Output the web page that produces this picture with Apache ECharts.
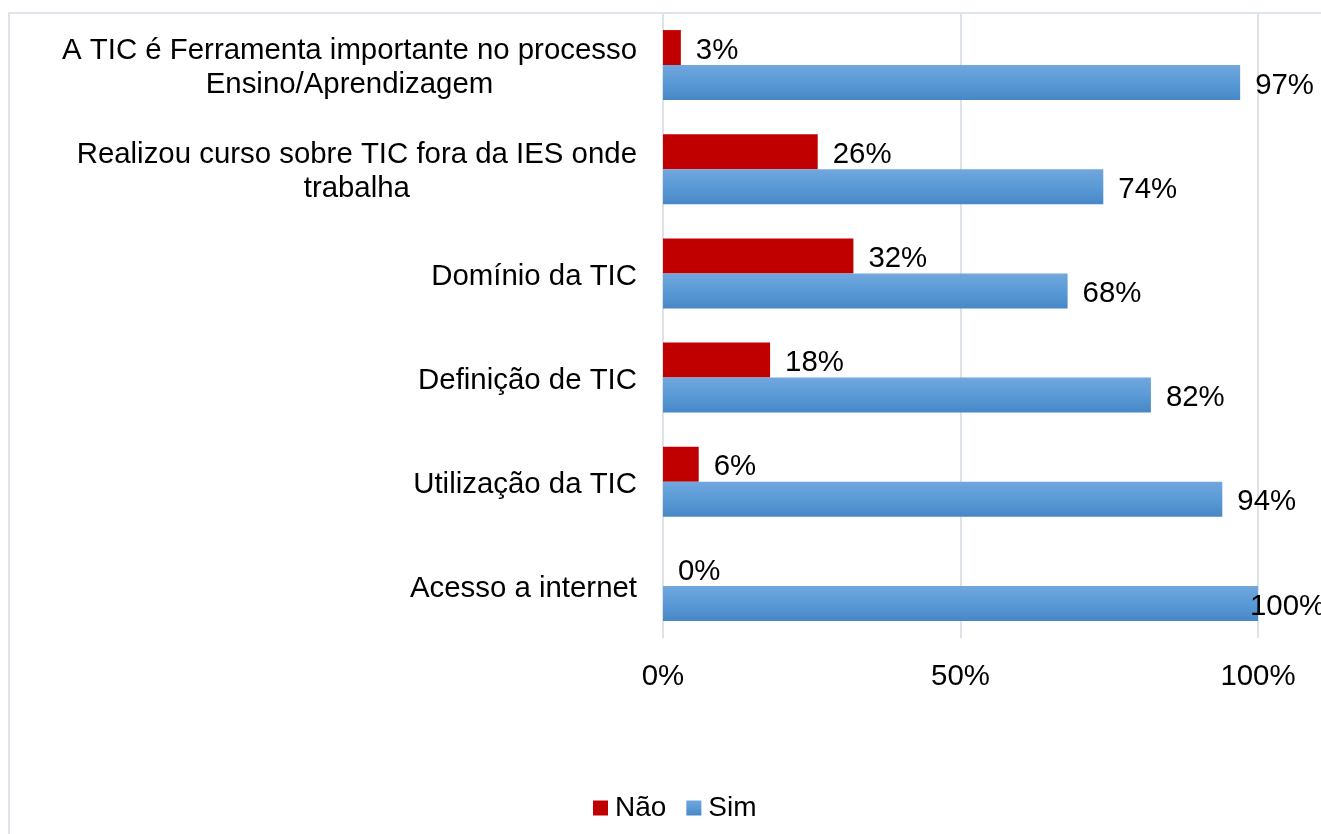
<!DOCTYPE html>
<html>
<head>
<meta charset="utf-8">
<script src="https://cdn.jsdelivr.net/npm/echarts@6/dist/echarts.min.js"></script>
<style>
  html, body { margin: 0; padding: 0; background: #fff; overflow: hidden; }
  #frame { position: absolute; left: 8px; top: 12px; width: 1400px; height: 900px; border: 2px solid #dfe3ea; box-sizing: border-box; }
  #main { position: absolute; left: 0; top: 0; width: 1321px; height: 834px; }
</style>
</head>
<body>
<div id="frame"></div>
<div id="main"></div>
<script>
// categorias, de cima para baixo
const categories = [
  'A TIC é Ferramenta importante no processo\nEnsino/Aprendizagem',
  'Realizou curso sobre TIC fora da IES onde\ntrabalha',
  'Domínio da TIC',
  'Definição de TIC',
  'Utilização da TIC',
  'Acesso a internet'
]
const naoValues = [3, 26, 32, 18, 6, 0]
const simValues = [97, 74, 68, 82, 94, 100]
const xTicks = [0, 50, 100]

const font = 'Liberation Sans, Arial, sans-serif'
const fs = 29.4
const myChart = echarts.init(document.getElementById('main'))

// rotulo do 100% fica por cima do fim da barra
const simData = simValues.map(v => v >= 100 ? { value: v, label: { distance: -8 } } : v)

const dataLabel = {
  show: true, position: 'right', distance: 15, formatter: '{c}%',
  fontSize: fs, color: '#000', fontFamily: font, offset: [0, 3]
}

const option = {
  animation: false,
  textStyle: { fontFamily: font },
  grid: { left: 663, right: 63, top: 13, bottom: 196 },
  legend: {
    data: ['Não', 'Sim'],
    left: 588,
    top: 789,
    icon: 'rect',
    itemWidth: 15,
    itemHeight: 15,
    itemGap: 20,
    textStyle: { fontSize: 28, color: '#000', fontFamily: font, padding: [0, 0, 0, 2] }
  },
  xAxis: {
    type: 'value',
    min: xTicks[0],
    max: xTicks[xTicks.length - 1],
    interval: 50,
    axisLine: { show: false },
    axisTick: { show: false },
    splitLine: { lineStyle: { color: '#dde1e8', width: 2 } },
    axisLabel: { formatter: '{value}%', fontSize: fs, color: '#000', margin: 24, fontFamily: font }
  },
  yAxis: {
    type: 'category',
    inverse: true,
    data: categories,
    axisLine: { show: false },
    axisTick: { show: false },
    axisLabel: {
      margin: 26,
      padding: [6, 0, 0, 0],
      formatter: v => v.split('\n').map(s => '{c|' + s + '}').join('\n'),
      rich: {
        c: { align: 'center', fontSize: fs, lineHeight: 34, color: '#000', fontFamily: font }
      }
    }
  },
  series: [
    {
      name: 'Não',
      type: 'bar',
      barWidth: 35,
      barGap: '0%',
      data: naoValues,
      itemStyle: { color: '#c00000' },
      label: dataLabel
    },
    {
      name: 'Sim',
      type: 'bar',
      barWidth: 35,
      barGap: '0%',
      data: simData,
      itemStyle: {
        color: new echarts.graphic.LinearGradient(0, 0, 0, 1, [
          { offset: 0, color: '#71a7dd' },
          { offset: 0.5, color: '#5a9ad6' },
          { offset: 1, color: '#4787c6' }
        ])
      },
      label: dataLabel
    }
  ]
}
myChart.setOption(option)
</script>
</body>
</html>
